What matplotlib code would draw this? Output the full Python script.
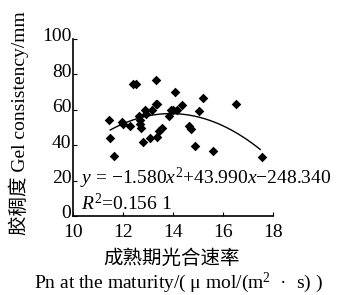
import numpy as np
import matplotlib.pyplot as plt
import matplotlib.transforms as mtransforms

# Pn at maturity vs gel consistency
pn = [11.46, 11.49, 11.66, 11.97, 12.03, 12.29, 12.40, 12.53, 12.67, 12.69,
      12.69, 12.72, 12.80, 12.89, 12.93, 13.09, 13.16, 13.33, 13.33, 13.36,
      13.36, 13.44, 13.57, 13.84, 13.92, 14.00, 14.09, 14.16, 14.37, 14.64,
      14.72, 14.90, 15.06, 15.22, 15.62, 16.53, 17.57]
gel = [54.1, 44.3, 33.8, 53.1, 51.8, 51.1, 74.8, 74.8, 56.3, 54.5,
       52.2, 49.6, 41.7, 59.7, 57.5, 44.3, 60.1, 77.0, 63.1, 63.5,
       44.7, 48.1, 49.6, 56.3, 60.1, 59.7, 69.9, 59.7, 62.7, 50.7,
       49.2, 39.8, 59.3, 66.9, 36.8, 63.5, 33.4]
coef = [-1.580, 43.990, -248.340]
fit_range = [11.5, 17.5]
xticks = [10, 12, 14, 16, 18]
yticks = [0, 20, 40, 60, 80, 100]

serif = ['Liberation Serif', 'Noto Sans CJK SC']
plt.rcParams['font.family'] = serif
plt.rcParams['mathtext.fontset'] = 'custom'
plt.rcParams['mathtext.rm'] = 'Liberation Serif'
plt.rcParams['mathtext.it'] = 'Liberation Serif:italic'

fig = plt.figure(figsize=(3.51, 2.95), dpi=100)
ax = fig.add_axes([72.7/351, 1-216/295, 200/351, 177/295])

ax.scatter(pn, gel, marker='D', s=24, color='black', lw=0, zorder=3)
xs = np.linspace(fit_range[0], fit_range[1], 100)
ax.plot(xs, np.polyval(coef, xs), color='black', lw=1)

ax.set_xlim(10, 18)
ax.set_ylim(0, 100)
ax.set_xticks(xticks)
ax.set_yticks(yticks)
ax.tick_params(direction='in', length=3, width=0.8, labelsize=14)
ax.tick_params(axis='y', pad=1)
ax.tick_params(axis='x', pad=6)
for s in ['top', 'right']:
    ax.spines[s].set_visible(False)
for s in ['left', 'bottom']:
    ax.spines[s].set_linewidth(1.2)

# y labels sit a bit high in the original
shift = mtransforms.ScaledTranslation(0, 3/72, fig.dpi_scale_trans)
for lab in ax.get_yticklabels():
    lab.set_transform(lab.get_transform() + shift)

ax.text(10.3, 21.4, r'$y$ = $-$1.580$x^2$+43.990$x$$-$248.340', fontsize=14,
        va='center', ha='left')
ax.text(10.34, 6.8, r'$R^2$=0.156 1', fontsize=14, va='center', ha='left')

fig.text(19/351, 1-123/295, '胶稠度 Gel consistency/mm', rotation=90,
         ha='center', va='center', fontsize=14, family=serif)
fig.text(172/351, 1-258/295, '成熟期光合速率', ha='center', va='center',
         fontsize=14, family=['Noto Sans CJK SC'])
fig.text(178/351, 1-283/295, 'Pn at the maturity/( μ mol/(m$^2$  ·  s) )',
         ha='center', va='center', fontsize=14, family=serif)

fig.savefig('out.png', dpi=100)
